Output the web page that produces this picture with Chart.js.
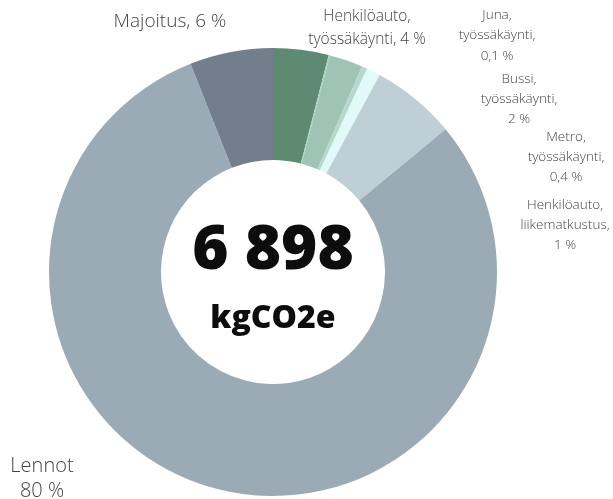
<!DOCTYPE html>
<html>
<head>
<meta charset="utf-8">
<script src="https://cdn.jsdelivr.net/npm/chart.js@4"></script>
<style>
  html, body { margin: 0; padding: 0; background: #fff; }
  #wrap { width: 613px; height: 499px; position: relative; }
</style>
</head>
<body>
<div id="wrap"><canvas id="chart" width="613" height="499"></canvas></div>
<script>
// clockwise from 12 o'clock
const categories = [
  'Henkilöauto, työssäkäynti',
  'Juna, työssäkäynti',
  'Bussi, työssäkäynti',
  'Metro, työssäkäynti',
  'Henkilöauto, liikematkustus',
  '',
  'Lennot',
  'Majoitus'
];
const shares = [4, 0.1, 2.4, 0.4, 1, 6.1, 80, 6];
const colors = ['#5e8a74', '#a9cfc0', '#9fc4b6', '#b5d9cc', '#e2f9fa', '#bed0d6', '#9aabb5', '#737e8d'];

const totalText = '6 898';
const unitText = 'kgCO2e';

// label text lines and where they sit (centre x, first line y, line height, font size)
const labelLayout = [
  { lines: ['Henkilöauto,', 'työssäkäynti, 4 %'], x: 367, y: 17, lh: 23, size: 15.5 },
  { lines: ['Juna,', 'työssäkäynti,', '0,1 %'], x: 497, y: 15, lh: 20.5, size: 13.5 },
  { lines: ['Bussi,', 'työssäkäynti,', '2 %'], x: 519, y: 79, lh: 20, size: 13.5 },
  { lines: ['Metro,', 'työssäkäynti,', '0,4 %'], x: 566, y: 137, lh: 20, size: 13.5 },
  { lines: ['Henkilöauto,', 'liikematkustus,', '1 %'], x: 565, y: 205, lh: 20, size: 13.5 },
  { lines: ['Lennot', '80 %'], x: 42, y: 466, lh: 25, size: 20 },
  { lines: ['Majoitus, 6 %'], x: 170, y: 22, lh: 22, size: 19 }
];

const outsideLabels = {
  id: 'outsideLabels',
  afterDraw(chart) {
    const ctx = chart.ctx;
    ctx.save();
    ctx.fillStyle = '#444';
    ctx.textAlign = 'center';
    ctx.textBaseline = 'middle';
    labelLayout.forEach(l => {
      ctx.font = `300 ${l.size}px "Open Sans"`;
      l.lines.forEach((t, k) => ctx.fillText(t, l.x, l.y + k * l.lh));
    });
    ctx.restore();
  }
};

const centerText = {
  id: 'centerText',
  afterDraw(chart) {
    const arc = chart.getDatasetMeta(0).data[0];
    if (!arc) return;
    const ctx = chart.ctx;
    ctx.save();
    ctx.fillStyle = '#0d0d0d';
    ctx.textAlign = 'center';
    ctx.textBaseline = 'middle';
    ctx.font = '800 62px "Open Sans"';
    ctx.fillText(totalText, arc.x, arc.y - 21);
    ctx.font = '800 32px "Open Sans"';
    ctx.fillText(unitText, arc.x, arc.y + 47);
    ctx.restore();
  }
};

new Chart(document.getElementById('chart'), {
  type: 'doughnut',
  data: {
    labels: categories,
    datasets: [{
      data: shares,
      backgroundColor: colors,
      borderWidth: 0
    }]
  },
  options: {
    responsive: false,
    animation: false,
    cutout: '50%',
    layout: { padding: { left: 49, right: 116, top: 48, bottom: 3 } },
    plugins: {
      legend: { display: false },
      tooltip: { enabled: false }
    }
  },
  plugins: [outsideLabels, centerText]
});
</script>
</body>
</html>
